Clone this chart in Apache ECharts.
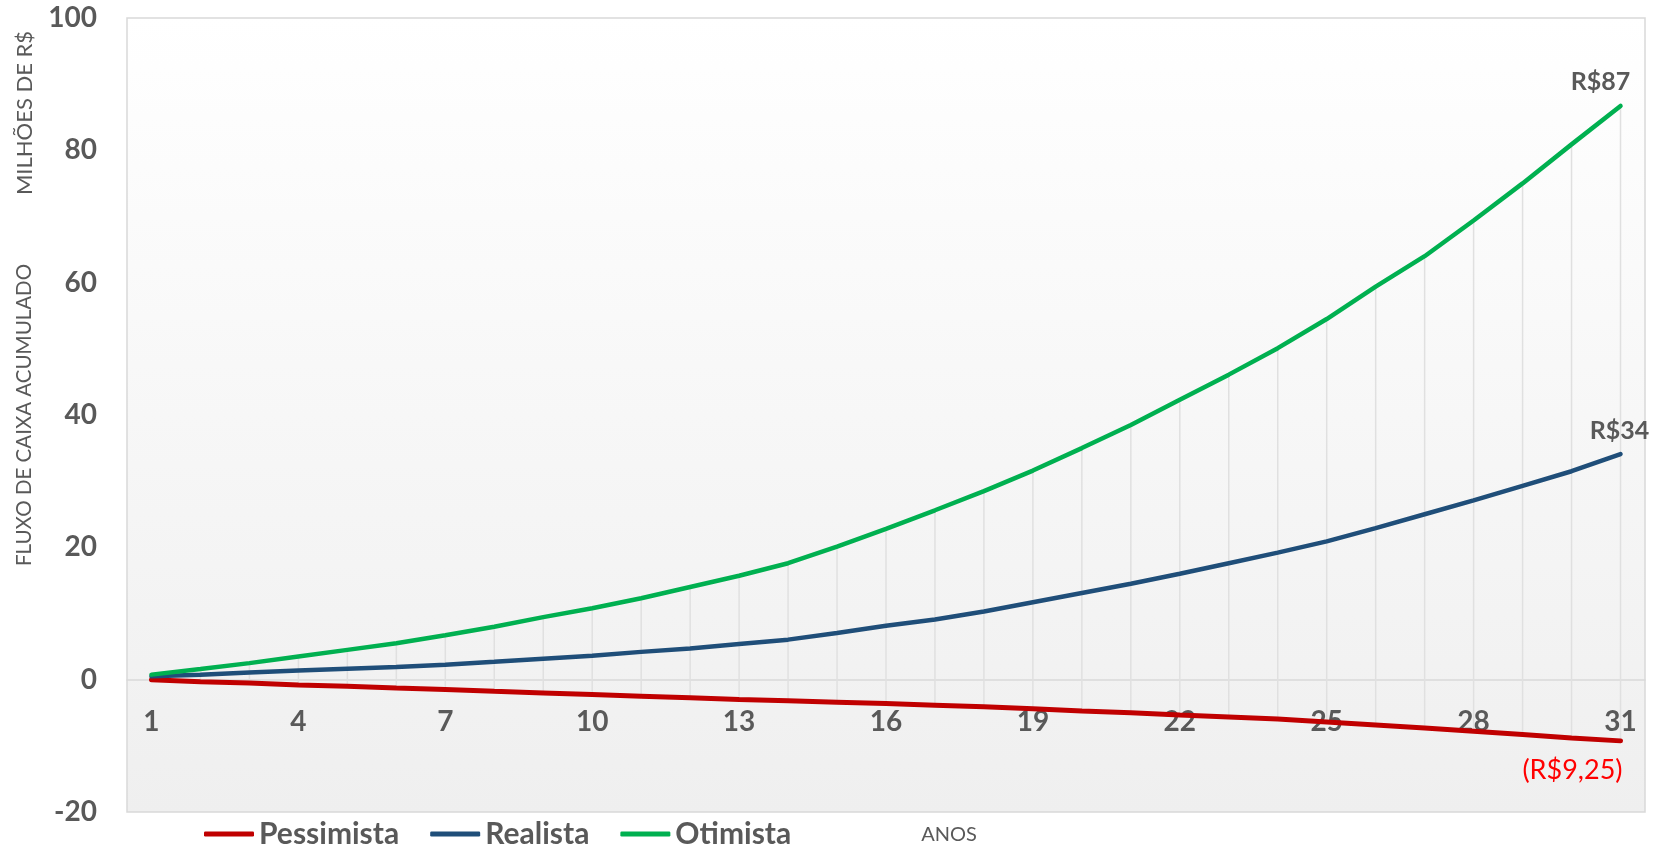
<!DOCTYPE html>
<html>
<head>
<meta charset="utf-8">
<script src="https://cdn.jsdelivr.net/npm/echarts@6/dist/echarts.min.js"></script>
<style>
  html, body { margin: 0; padding: 0; background: #fff; }
  #chart { width: 1663px; height: 847px; }
</style>
</head>
<body>
<div id="chart"></div>
<script>
// anos 1..31
var anos = [];
for (var i = 1; i <= 31; i++) anos.push(String(i));

// fluxo de caixa acumulado, milhoes de R$
var pessimista = [0, -0.3, -0.5, -0.8, -1.0, -1.26, -1.5, -1.76, -2.0, -2.25, -2.5, -2.75, -3.0, -3.2, -3.4,
  -3.6, -3.85, -4.1, -4.4, -4.75, -5.0, -5.35, -5.65, -5.95, -6.4, -6.85, -7.3, -7.8, -8.3, -8.8, -9.25];
var realista = [0.5, 0.75, 1.1, 1.4, 1.66, 1.9, 2.27, 2.7, 3.17, 3.6, 4.2, 4.7, 5.4, 6.05, 7.05,
  8.16, 9.1, 10.3, 11.7, 13.1, 14.5, 16.0, 17.6, 19.2, 20.9, 22.9, 25.0, 27.1, 29.3, 31.5, 34.1];
var otimista = [0.76, 1.6, 2.5, 3.5, 4.5, 5.5, 6.7, 8.0, 9.45, 10.8, 12.3, 14.0, 15.7, 17.6, 20.1,
  22.8, 25.6, 28.5, 31.6, 35.0, 38.5, 42.3, 46.1, 50.1, 54.5, 59.4, 64.0, 69.4, 75.0, 80.9, 86.7];

var nomes = ["Pessimista", "Realista", "Otimista"];
var cores = ["#C00000", "#1F4E79", "#00B050"];

// linhas de maximo/minimo (high-low) por ano
var highLow = anos.map(function (a, i) {
  var vals = [pessimista[i], realista[i], otimista[i]];
  return [i, Math.max.apply(null, vals), Math.min.apply(null, vals)];
});

var FONT = "Lato";
var GRAY = "#595959";
var Y_MIN = -20, Y_MAX = 100;
var GRID_TOP = 18, GRID_BOTTOM = 35, H = 847;

function lastLabel(arr) {
  return function (p) {
    if (p.dataIndex !== arr.length - 1) return "";
    var v = p.value;
    if (v < 0) return "(R$" + Math.abs(v).toFixed(2).replace(".", ",") + ")";
    return "R$" + Math.round(v);
  };
}

// eixo x desenhado na linha do zero
var plotH = H - GRID_TOP - GRID_BOTTOM;
var zeroOffset = -plotH * (0 - Y_MIN) / (Y_MAX - Y_MIN);

var chart = echarts.init(document.getElementById("chart"));

var option = {
  backgroundColor: "#fff",
  animation: false,
  textStyle: { fontFamily: FONT },
  grid: {
    left: 127,
    right: 18,
    top: GRID_TOP,
    bottom: GRID_BOTTOM,
    containLabel: false,
    outerBoundsMode: "none",
    show: true,
    borderColor: "#D9D9D9",
    borderWidth: 1.5,
    backgroundColor: new echarts.graphic.LinearGradient(0, 0, 0, 1, [
      { offset: 0, color: "#FFFFFF" },
      { offset: 1, color: "#EFEFEF" },
    ]),
  },
  legend: {
    data: nomes,
    left: 199,
    top: 814,
    itemGap: 31,
    itemWidth: 50,
    itemHeight: 5,
    icon: "roundRect",
    textStyle: { color: GRAY, fontSize: 30, fontWeight: "bold", fontFamily: FONT },
  },
  xAxis: {
    type: "category",
    data: anos,
    boundaryGap: true,
    offset: zeroOffset,
    axisLine: { onZero: false, lineStyle: { color: "#D9D9D9", width: 1.5 } },
    axisTick: { show: false },
    axisLabel: {
      interval: 2,
      margin: 28,
      color: GRAY,
      fontSize: 28,
      fontWeight: "bold",
      fontFamily: FONT,
    },
    splitLine: { show: false },
  },
  yAxis: {
    type: "value",
    min: Y_MIN,
    max: Y_MAX,
    interval: 20,
    name: "FLUXO DE CAIXA ACUMULADO",
    nameLocation: "middle",
    nameGap: 92,
    nameTextStyle: { color: GRAY, fontSize: 20.5, fontFamily: FONT },
    axisLine: { show: false },
    axisTick: { show: false },
    splitLine: { show: false },
    axisLabel: {
      margin: 30,
      color: GRAY,
      fontSize: 28,
      fontWeight: "bold",
      fontFamily: FONT,
    },
  },
  graphic: [
    {
      type: "text",
      x: 25,
      y: 113,
      rotation: Math.PI / 2,
      style: {
        text: "MILHÕES DE R$",
        fill: GRAY,
        font: "22px Lato",
        textAlign: "center",
        textVerticalAlign: "middle",
      },
    },
    {
      type: "text",
      x: 949,
      y: 835,
      style: {
        text: "ANOS",
        fill: GRAY,
        font: "20px Lato",
        textAlign: "center",
        textVerticalAlign: "middle",
      },
    },
  ],
  series: [
    {
      name: "highlow",
      type: "custom",
      silent: true,
      z: 1,
      encode: { x: 0, y: [1, 2] },
      data: highLow,
      renderItem: function (params, api) {
        var top = api.coord([api.value(0), api.value(1)]);
        var bot = api.coord([api.value(0), api.value(2)]);
        return {
          type: "line",
          shape: { x1: top[0], y1: top[1], x2: bot[0], y2: bot[1] },
          style: { stroke: "#E0E0E0", lineWidth: 1.5 },
        };
      },
    },
    {
      name: nomes[0],
      type: "line",
      z: 3,
      data: pessimista,
      showSymbol: true,
      showAllSymbol: true,
      symbol: "circle",
      symbolSize: 0,
      color: cores[0],
      lineStyle: { width: 5, color: cores[0], cap: "round" },
      label: {
        show: true,
        position: "bottom",
        align: "right",
        distance: 16,
        offset: [2, 0],
        color: "#FF0000",
        fontSize: 27,
        fontFamily: FONT,
        formatter: lastLabel(pessimista),
      },
    },
    {
      name: nomes[1],
      type: "line",
      z: 3,
      data: realista,
      showSymbol: true,
      showAllSymbol: true,
      symbol: "circle",
      symbolSize: 0,
      color: cores[1],
      lineStyle: { width: 4.5, color: cores[1], cap: "round" },
      label: {
        show: true,
        position: "top",
        distance: 11,
        offset: [-1, 0],
        color: GRAY,
        fontSize: 25,
        fontWeight: "bold",
        fontFamily: FONT,
        formatter: lastLabel(realista),
      },
    },
    {
      name: nomes[2],
      type: "line",
      z: 3,
      data: otimista,
      showSymbol: true,
      showAllSymbol: true,
      symbol: "circle",
      symbolSize: 0,
      color: cores[2],
      lineStyle: { width: 4.5, color: cores[2], cap: "round" },
      label: {
        show: true,
        position: "top",
        distance: 12,
        offset: [-20, 0],
        color: GRAY,
        fontSize: 25,
        fontWeight: "bold",
        fontFamily: FONT,
        formatter: lastLabel(otimista),
      },
    },
  ],
};

chart.setOption(option);
</script>
</body>
</html>
